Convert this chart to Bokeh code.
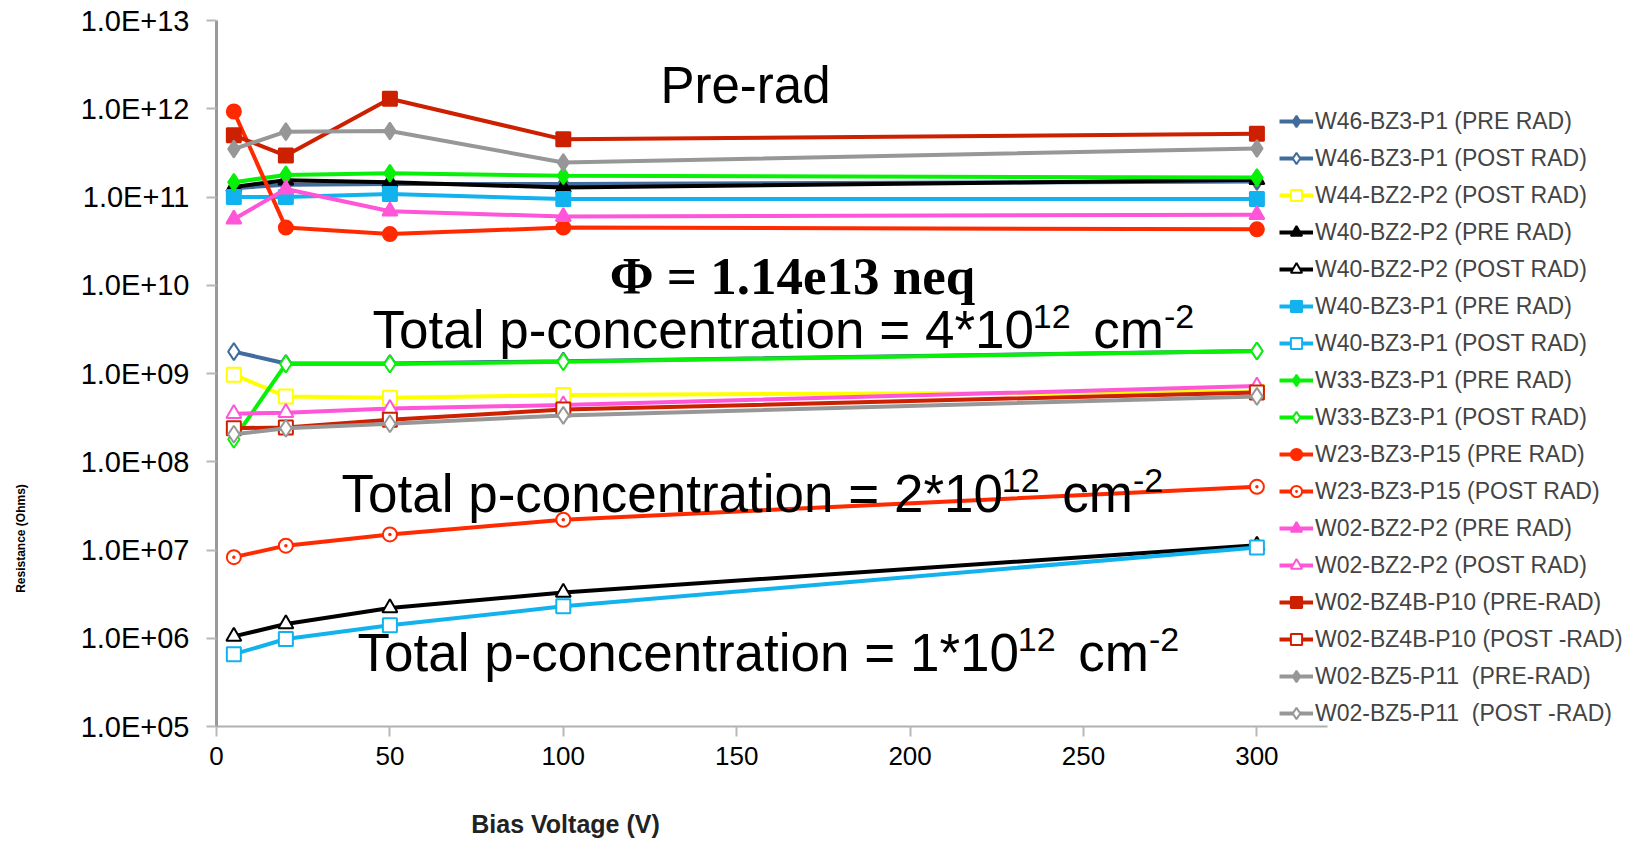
import math
from bokeh.plotting import figure
from bokeh.models import (Range1d, FixedTicker, CustomJSTickFormatter, Label,
                          Legend, LegendItem)
from bokeh.embed import file_html
from bokeh.resources import INLINE

# ---------------- data ----------------
bias_v = [5, 20, 50, 100, 300]

w46_bz3_p1_pre = [1.26e11, 1.38e11, 1.40e11, 1.40e11, 1.50e11]
w46_bz3_p1_post = [1.77e9, 1.30e9, 1.30e9, 1.38e9, 1.80e9]
w44_bz2_p2_post = [9.7e8, 5.5e8, 5.3e8, 5.7e8, 6.2e8]
w40_bz2_p2_pre = [1.30e11, 1.55e11, 1.47e11, 1.28e11, 1.57e11]
w40_bz2_p2_post = [1.05e6, 1.45e6, 2.2e6, 3.3e6, 1.13e7]
w40_bz3_p1_pre = [1.0e11, 1.0e11, 1.08e11, 9.5e10, 9.5e10]
w40_bz3_p1_post = [6.6e5, 9.8e5, 1.4e6, 2.3e6, 1.07e7]
w33_bz3_p1_pre = [1.47e11, 1.78e11, 1.86e11, 1.74e11, 1.66e11]
w33_bz3_p1_post = [1.8e8, 1.28e9, 1.28e9, 1.36e9, 1.80e9]
w23_bz3_p15_pre = [9.3e11, 4.5e10, 3.8e10, 4.5e10, 4.3e10]
w23_bz3_p15_post = [8.3e6, 1.12e7, 1.5e7, 2.2e7, 5.2e7]
w02_bz2_p2_pre = [5.6e10, 1.23e11, 6.9e10, 6.0e10, 6.3e10]
w02_bz2_p2_post = [3.5e8, 3.6e8, 4.0e8, 4.4e8, 7.2e8]
w02_bz4b_p10_pre = [5.0e11, 2.95e11, 1.3e12, 4.5e11, 5.2e11]
w02_bz4b_p10_post = [2.4e8, 2.45e8, 3.0e8, 3.9e8, 6.1e8]
w02_bz5_p11_pre = [3.5e11, 5.5e11, 5.6e11, 2.46e11, 3.55e11]
w02_bz5_p11_post = [2.05e8, 2.4e8, 2.7e8, 3.35e8, 5.5e8]

series_labels = [
    "W46-BZ3-P1 (PRE RAD)", "W46-BZ3-P1 (POST RAD)", "W44-BZ2-P2 (POST RAD)",
    "W40-BZ2-P2 (PRE RAD)", "W40-BZ2-P2 (POST RAD)", "W40-BZ3-P1 (PRE RAD)",
    "W40-BZ3-P1 (POST RAD)", "W33-BZ3-P1 (PRE RAD)", "W33-BZ3-P1 (POST RAD)",
    "W23-BZ3-P15 (PRE RAD)", "W23-BZ3-P15 (POST RAD)", "W02-BZ2-P2 (PRE RAD)",
    "W02-BZ2-P2 (POST RAD)", "W02-BZ4B-P10 (PRE-RAD)", "W02-BZ4B-P10 (POST -RAD)",
    "W02-BZ5-P11  (PRE-RAD)", "W02-BZ5-P11  (POST -RAD)",
]
series_values = [
    w46_bz3_p1_pre, w46_bz3_p1_post, w44_bz2_p2_post,
    w40_bz2_p2_pre, w40_bz2_p2_post, w40_bz3_p1_pre,
    w40_bz3_p1_post, w33_bz3_p1_pre, w33_bz3_p1_post,
    w23_bz3_p15_pre, w23_bz3_p15_post, w02_bz2_p2_pre,
    w02_bz2_p2_post, w02_bz4b_p10_pre, w02_bz4b_p10_post,
    w02_bz5_p11_pre, w02_bz5_p11_post,
]
STEEL, YEL, BLK, CYA, GRN = "#416C9C", "#FFFF00", "#000000", "#12B2EE", "#08F008"
RED, PNK, DRD, GRY = "#FF2A00", "#FF55D8", "#CC2000", "#979797"
series_colors = [STEEL, STEEL, YEL, BLK, BLK, CYA, CYA, GRN, GRN,
                 RED, RED, PNK, PNK, DRD, DRD, GRY, GRY]
series_markers = ["diamond", "diamond", "square", "triangle", "triangle",
                  "square", "square", "diamond", "diamond", "circle",
                  "circle_dot", "triangle", "triangle", "square", "square",
                  "diamond", "diamond"]
series_filled = [True, False, False, True, False, True, False, True, False,
                 True, False, True, False, True, False, True, False]

x_ticks = [0, 50, 100, 150, 200, 250, 300]
y_ticks = [1e5, 1e6, 1e7, 1e8, 1e9, 1e10, 1e11, 1e12, 1e13]

# ---------------- geometry (reference pixel -> data) ----------------
W, H = 1634, 842
AX_L, AX_T, AX_B, AX_R = 216, 20, 726, 1327   # axis box in the reference
PX_PER_V = 3.468
PX_PER_DEC = (AX_B - AX_T) / 8.0


def dx(px):
    return (px - AX_L) / PX_PER_V


def dy(py):
    return 10 ** (13 - (py - AX_T) / PX_PER_DEC)


BASE_FIX = 0.37   # alphabetic baseline correction (fraction of font size)

ARIAL = {"T": 611, "o": 556, "t": 278, "a": 556, "l": 222, " ": 278, "p": 556,
         "-": 333, "c": 500, "n": 556, "e": 556, "r": 333, "i": 222, "=": 584,
         "*": 389, "m": 833}


def tw(s, size):
    return sum(ARIAL.get(ch, 556) for ch in s) * size / 1000.0


p = figure(width=W, height=H, output_backend="svg", toolbar_location=None,
           x_range=Range1d(dx(0), dx(W)), y_range=Range1d(dy(H), dy(0)),
           y_axis_type="log", min_border_left=0, min_border_right=0,
           min_border_top=0, min_border_bottom=0,
           background_fill_color="white", border_fill_color="white")
p.outline_line_color = None
p.xgrid.grid_line_color = None
p.ygrid.grid_line_color = None

MARK_SIZE = {"diamond": 17, "triangle": 15, "square": 14, "circle": 14, "circle_dot": 14}
items = []
for lab, vals, col, mk, filled in zip(series_labels, series_values, series_colors,
                                      series_markers, series_filled):
    lr = p.line(bias_v, vals, line_color=col, line_width=4)
    sr = p.scatter(bias_v, vals, marker=mk, size=MARK_SIZE[mk], line_color=col,
                   line_width=2, fill_color=col if filled else "white")
    items.append(LegendItem(label=lab, renderers=[lr, sr]))

legend = Legend(items=items, location=(1279, H - 727), glyph_width=34, glyph_height=28,
                label_height=28, label_standoff=2, spacing=9, padding=0, margin=0,
                border_line_color=None, background_fill_alpha=0,
                label_text_font="Liberation Sans", label_text_font_size="23px")
p.add_layout(legend)

# ---------------- axes (fixed inside the full-canvas frame) ----------------
p.xaxis.fixed_location = y_ticks[0]
p.yaxis.fixed_location = 0
p.xaxis.bounds = (0, dx(AX_R))
p.yaxis.bounds = (y_ticks[0], y_ticks[-1])
p.xaxis.ticker = FixedTicker(ticks=x_ticks, minor_ticks=[])
p.yaxis.ticker = FixedTicker(ticks=y_ticks, minor_ticks=[])
p.yaxis.formatter = CustomJSTickFormatter(code="""
const e = Math.round(Math.log10(tick));
return '1.0E+' + (e < 10 ? '0' + e : '' + e);
""")
for ax in (p.xaxis[0], p.yaxis[0]):
    ax.major_label_text_font = "Liberation Sans"
    ax.major_label_text_color = "black"
    ax.major_tick_in = 0
    ax.major_tick_out = 10
    ax.major_tick_line_color = "#B8B8B8"
    ax.major_tick_line_width = 2
    ax.minor_tick_line_color = None
p.yaxis.axis_line_color = "#999999"
p.yaxis.axis_line_width = 3
p.yaxis.major_label_text_font_size = "29px"
p.yaxis.major_label_standoff = 17
p.xaxis.axis_line_color = "#B0B0B0"
p.xaxis.axis_line_width = 2
p.xaxis.major_label_text_font_size = "26px"
p.xaxis.major_label_standoff = 10

# axis titles
p.add_layout(Label(x=dx(565), y=dy(823), text="Bias Voltage (V)", text_align="center",
                   text_baseline="middle", text_font="Liberation Sans",
                   text_font_style="bold", text_font_size="25px", text_color="#222222"))
p.add_layout(Label(x=dx(20), y=dy(538), text="Resistance (Ohms)", angle=math.pi / 2,
                   text_align="center", text_baseline="middle",
                   text_font="Liberation Sans", text_font_style="bold",
                   text_font_size="12px", text_color="black"))


def txt(x_px, base_px, text, size, font="Liberation Sans", style="normal",
        align="left", x_off=0.0, raise_px=0.0):
    p.add_layout(Label(x=dx(x_px), y=dy(base_px), x_offset=x_off,
                       y_offset=raise_px + BASE_FIX * size, text=text,
                       text_align=align, text_baseline="alphabetic", text_font=font,
                       text_font_style=style, text_font_size=f"{size}px",
                       text_color="black"))


# ---------------- annotations ----------------
txt(660, 104, "Pre-rad", 51)
txt(792, 295, "\u03a6 = 1.14e13 neq", 53, font="Liberation Serif", style="bold",
    align="center")

MAIN, SUP, RAISE = 53, 34, 20


def add_conc(main_text, left_px, base_px):
    # (text, font size, raise, extra gap before the piece)
    pieces = [(main_text, MAIN, 0, 0), ("12", SUP, RAISE, -7), (" ", MAIN, 0, 0),
              ("cm", MAIN, 0, 8), ("-2", SUP, RAISE, 0)]
    off = 0.0
    for t, size, rz, gap in pieces:
        off += gap
        if t.strip():
            txt(left_px, base_px, t, size, x_off=off, raise_px=rz)
        off += tw(t, size)


add_conc("Total p-concentration = 4*10", 372, 349)
add_conc("Total p-concentration = 2*10", 341, 513)
add_conc("Total p-concentration = 1*10", 357, 672)

open("out.html", "w").write(file_html(p, INLINE))
